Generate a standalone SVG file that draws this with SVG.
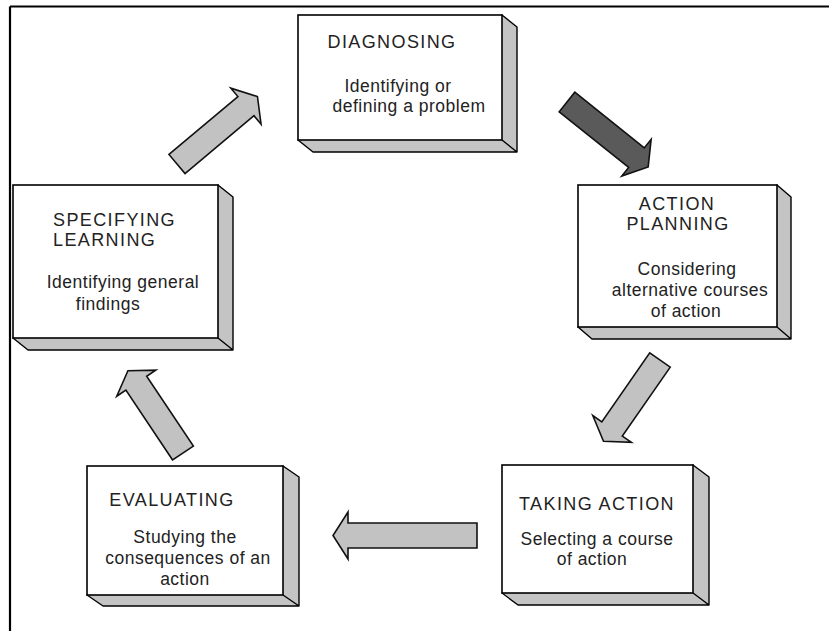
<svg xmlns="http://www.w3.org/2000/svg" width="829" height="631" viewBox="0 0 829 631">
  <style>
    .face { fill: #ffffff; stroke: #000000; stroke-width: 1.6; }
    .side { fill: #c4c4c4; stroke: #000000; stroke-width: 1.4; stroke-linejoin: round; }
    .title { font-family: "Liberation Sans", Arial, sans-serif; font-size: 18px; letter-spacing: 1.4px; fill: #222222; text-anchor: middle; }
    .body { font-family: "Liberation Sans", Arial, sans-serif; font-size: 17.5px; letter-spacing: 0.5px; fill: #222222; text-anchor: middle; }
    .arrow { fill: #c2c2c2; stroke: #111111; stroke-width: 1.6; stroke-linejoin: miter; }
    .arrow.dark { fill: #5a5a5a; }
  </style>

  <rect x="0" y="0" width="829" height="631" fill="#ffffff"/>
  <!-- frame lines along the top and left edges -->
  <path d="M10 6.5 H829 M10 6.5 V631" fill="none" stroke="#000000" stroke-width="2.2"/>

  <!-- connectors: block arrows drawn tail at origin, pointing along +x -->
  <g id="connectors">
    <path class="arrow" transform="translate(177 164) rotate(-40)" d="M0 -12.5 H90 V-23.5 L105 0 L90 23.5 V12.5 H0 Z"/>
    <path class="arrow dark" transform="translate(567 102) rotate(38.7)" d="M0 -12.5 H89 V-23.5 L104 0 L89 23.5 V12.5 H0 Z"/>
    <path class="arrow" transform="translate(660 360) rotate(124.8)" d="M0 -12.5 H84 V-23.5 L99 0 L84 23.5 V12.5 H0 Z"/>
    <path class="arrow" transform="translate(477 535.5) rotate(180)" d="M0 -12.5 H129 V-23.5 L144 0 L129 23.5 V12.5 H0 Z"/>
    <path class="arrow" transform="translate(183 453) rotate(-123.8)" d="M0 -12.5 H84 V-23.5 L99 0 L84 23.5 V12.5 H0 Z"/>
  </g>

  <g id="diagnosing">
    <path class="side" d="M502 15 L517 27 L517 152 L313 152 L298 140 Z M502 140 L517 152"/>
    <rect class="face" x="298" y="15" width="204" height="125"/>
    <text class="title" x="392" y="48">DIAGNOSING</text>
    <text class="body" x="398" y="92">Identifying or</text>
    <text class="body" x="409" y="112">defining a problem</text>
  </g>

  <g id="action-planning">
    <path class="side" d="M777 185 L791 197 L791 339 L592 339 L578 327 Z M777 327 L791 339"/>
    <rect class="face" x="578" y="185" width="199" height="142"/>
    <text class="title" x="677" y="210">ACTION</text>
    <text class="title" x="678" y="230">PLANNING</text>
    <text class="body" x="687" y="275">Considering</text>
    <text class="body" x="690" y="296">alternative courses</text>
    <text class="body" x="686" y="317">of action</text>
  </g>

  <g id="taking-action">
    <path class="side" d="M693 465 L709 477 L709 605 L518 605 L502 593 Z M693 593 L709 605"/>
    <rect class="face" x="502" y="465" width="191" height="128"/>
    <text class="title" x="597" y="510">TAKING ACTION</text>
    <text class="body" x="597" y="545">Selecting a course</text>
    <text class="body" x="592" y="565">of action</text>
  </g>

  <g id="evaluating">
    <path class="side" d="M283 466 L299 477 L299 606 L103 606 L87 595 Z M283 595 L299 606"/>
    <rect class="face" x="87" y="466" width="196" height="129"/>
    <text class="title" x="172" y="506">EVALUATING</text>
    <text class="body" x="185" y="543">Studying the</text>
    <text class="body" x="188" y="564">consequences of an</text>
    <text class="body" x="185" y="585">action</text>
  </g>

  <g id="specifying-learning">
    <path class="side" d="M218 185 L233 197 L233 350 L28 350 L13 338 Z M218 338 L233 350"/>
    <rect class="face" x="13" y="185" width="205" height="153"/>
    <text class="title" x="53" y="226" style="text-anchor:start">SPECIFYING</text>
    <text class="title" x="53" y="246" style="text-anchor:start">LEARNING</text>
    <text class="body" x="123" y="288">Identifying general</text>
    <text class="body" x="108" y="310">findings</text>
  </g>
</svg>
